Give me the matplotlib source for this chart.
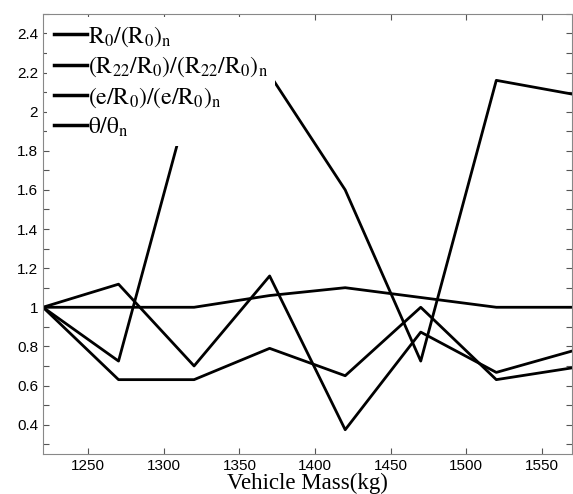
import matplotlib.pyplot as plt
import numpy as np

plt.rcParams['mathtext.fontset'] = 'stix'
plt.rcParams['font.family'] = ['Liberation Sans', 'DejaVu Sans']

mass = [1220, 1270, 1320, 1370, 1420, 1470, 1520, 1570]

# ratios to nominal values
r0_ratio = [1.0, 1.0, 1.0, 1.06, 1.10, 1.05, 1.0, 1.0]
r22_ratio = [1.0, 1.118, 0.70, 1.16, 0.374, 0.873, 0.667, 0.776]
e_ratio = [1.0, 0.63, 0.63, 0.79, 0.65, 1.0, 0.63, 0.69]
theta_ratio = [1.0, 0.725, 2.15, 2.19, 1.60, 0.725, 2.16, 2.09]

labels = [r'$\mathrm{R_0/(R_0)_n}$',
          r'$\mathrm{(R_{22}/R_0)/(R_{22}/R_0)_n}$',
          r'$\mathrm{(e/R_0)/(e/R_0)_n}$',
          r'$\mathrm{\theta/\theta_n}$']

fig = plt.figure(figsize=(5.73, 4.94), dpi=100)
ax = fig.add_axes([0.075, 0.081, 0.923, 0.891])

for ys, lab in zip([r0_ratio, r22_ratio, e_ratio, theta_ratio], labels):
    ax.plot(mass, ys, color='black', lw=2.0, label=lab, zorder=2)

ax.set_xlim(1220, 1570)
ax.set_ylim(0.25, 2.5)
ax.set_xticks(np.arange(1250, 1551, 50))
yt = np.round(np.arange(0.3, 2.51, 0.1), 1)
ax.set_yticks(yt)
ax.set_yticklabels([('%g' % v) if abs(round(v * 10) % 2) < 1e-9 else '' for v in yt])
ax.tick_params(direction='in', top=True, right=True, length=4, width=0.8,
               labelsize=11, color='#555555')
for s in ax.spines.values():
    s.set_color('#888888')
    s.set_linewidth(0.8)

ax.set_xlabel('Vehicle Mass(kg)', family='Liberation Serif', fontsize=16.5, labelpad=0)

leg = ax.legend(loc='upper left', fontsize=17, frameon=True, facecolor='white',
                edgecolor='none', framealpha=1, fancybox=False,
                handlelength=1.4, handletextpad=0.05, labelspacing=0.25,
                borderpad=0.3, borderaxespad=0.15)
leg.set_zorder(2.2)
for l in leg.get_lines():
    l.set_linewidth(2.5)

fig.savefig('out.png', dpi=100)
